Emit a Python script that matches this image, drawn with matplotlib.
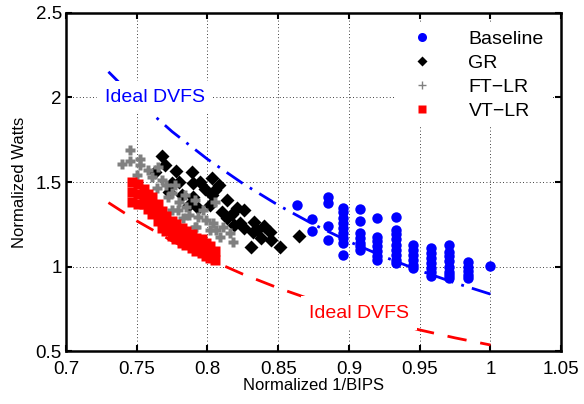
import numpy as np
import matplotlib.pyplot as plt
from matplotlib.lines import Line2D

plt.rcParams['font.family'] = ['Liberation Sans', 'DejaVu Sans']

# Baseline (blue circles), grouped by column
base_cols = {
    0.863: [1.364],
    0.874: [1.281, 1.21],
    0.885: [1.411, 1.376, 1.24, 1.157],
    0.896: [1.346, 1.32, 1.29, 1.26, 1.23, 1.20, 1.17, 1.139, 1.068],
    0.908: [1.34, 1.27, 1.20, 1.17, 1.14, 1.12, 1.10],
    0.920: [1.287, 1.175, 1.15, 1.12, 1.09, 1.06, 1.038],
    0.933: [1.293, 1.216, 1.19, 1.16, 1.13, 1.10, 1.07, 1.04, 1.02],
    0.945: [1.127, 1.10, 1.07, 1.04, 1.01, 0.99],
    0.958: [1.109, 1.08, 1.05, 1.02, 0.99, 0.965, 0.944],
    0.971: [1.127, 1.086, 1.06, 1.03, 1.00, 0.97, 0.95, 0.932],
    0.984: [1.027, 1.00, 0.975, 0.95, 0.932],
    1.000: [1.003],
}

# GR (black diamonds)
gr_x = [0.768, 0.770, 0.763, 0.778, 0.789, 0.780, 0.775, 0.790, 0.773, 0.782,
        0.790, 0.787, 0.793, 0.795, 0.803, 0.803, 0.802, 0.810, 0.821, 0.814,
        0.823, 0.826, 0.833, 0.832, 0.835, 0.844, 0.845, 0.838, 0.831, 0.851,
        0.865, 0.805, 0.814, 0.826, 0.819, 0.798, 0.808, 0.817, 0.840]
gr_y = [1.654, 1.601, 1.559, 1.565, 1.559, 1.500, 1.494, 1.494, 1.441, 1.423,
        1.411, 1.364, 1.346, 1.500, 1.524, 1.423, 1.364, 1.322, 1.346, 1.287,
        1.257, 1.228, 1.263, 1.204, 1.216, 1.204, 1.157, 1.169, 1.115, 1.115,
        1.180, 1.453, 1.393, 1.334, 1.245, 1.460, 1.480, 1.310, 1.240]

# FT-LR (grey pluses)
ft_x = [0.745, 0.7395, 0.745, 0.752, 0.752, 0.750, 0.758, 0.765, 0.761, 0.768,
        0.771, 0.764, 0.772, 0.775, 0.780, 0.779, 0.785, 0.787, 0.793, 0.797,
        0.799, 0.804, 0.806, 0.811, 0.816, 0.818, 0.809, 0.802, 0.792, 0.783,
        0.775, 0.805, 0.791, 0.784, 0.791, 0.777]
ft_y = [1.689, 1.607, 1.624, 1.636, 1.601, 1.541, 1.571, 1.589, 1.530, 1.512,
        1.482, 1.464, 1.411, 1.435, 1.382, 1.335, 1.352, 1.305, 1.293, 1.335,
        1.275, 1.257, 1.216, 1.234, 1.198, 1.145, 1.175, 1.216, 1.234, 1.287,
        1.335, 1.382, 1.234, 1.423, 1.393, 1.482]

# VT-LR (red squares)
vt_x = [0.747, 0.747, 0.747, 0.751, 0.751, 0.751, 0.755, 0.755, 0.755, 0.758, 0.758, 0.758,
        0.761, 0.761, 0.761, 0.765, 0.765, 0.765, 0.768, 0.768, 0.768, 0.771, 0.771, 0.771,
        0.775, 0.775, 0.775, 0.778, 0.778, 0.778, 0.782, 0.782, 0.782, 0.785, 0.785, 0.785,
        0.789, 0.789, 0.789, 0.792, 0.792, 0.792, 0.796, 0.796, 0.796, 0.799, 0.799, 0.799,
        0.802, 0.802, 0.802, 0.805, 0.805]
vt_y = [1.50, 1.44, 1.38, 1.49, 1.43, 1.37, 1.46, 1.42, 1.37, 1.43, 1.39, 1.34,
        1.41, 1.36, 1.31, 1.37, 1.32, 1.27, 1.33, 1.28, 1.23, 1.30, 1.25, 1.21,
        1.27, 1.22, 1.18, 1.25, 1.20, 1.16, 1.23, 1.18, 1.14, 1.21, 1.17, 1.13,
        1.19, 1.15, 1.11, 1.17, 1.13, 1.09, 1.16, 1.12, 1.08, 1.14, 1.10, 1.06,
        1.12, 1.085, 1.05, 1.09, 1.04]

# Ideal DVFS curves
ideal_x = [0.73, 0.75, 0.775, 0.80, 0.825, 0.85, 0.875, 0.90, 0.925, 0.95, 0.975, 1.0]
ideal_blue = [2.152, 1.984, 1.798, 1.635, 1.491, 1.363, 1.249, 1.148, 1.057, 0.976, 0.903, 0.837]
ideal_red = [1.378, 1.270, 1.151, 1.047, 0.955, 0.873, 0.800, 0.735, 0.677, 0.625, 0.578, 0.536]

base_x = [x for x, ys in base_cols.items() for _ in ys]
base_y = [y for ys in base_cols.values() for y in ys]

fig = plt.figure(figsize=(5.84, 4.04), dpi=100)
ax = fig.add_axes([0.113, 0.131, 0.848, 0.837])

ax.plot(base_x, base_y, 'o', color='#0000ff', ms=7.5, mec='none', zorder=3)
ax.plot(gr_x, gr_y, 'D', color='black', ms=7, mec='none', zorder=3)
ax.plot(ft_x, ft_y, 'P', color='#808080', ms=7.5, mec='none', zorder=3)
ax.plot(vt_x, vt_y, 's', color='#ff0000', ms=6.5, mec='none', zorder=3)

ax.plot(ideal_x, ideal_blue, color='#0000ff', lw=2, dashes=(7, 3, 1, 3), zorder=2)
ax.plot(ideal_x, ideal_red, color='#ff0000', lw=2, dashes=(7, 5), zorder=2)

ax.text(0.763, 2.0, 'Ideal DVFS', color='#0000ff', fontsize=14, ha='center', va='center',
        bbox=dict(facecolor='white', edgecolor='none', pad=6), zorder=4)
ax.text(0.907, 0.725, 'Ideal DVFS', color='#ff0000', fontsize=14, ha='center', va='center',
        bbox=dict(facecolor='white', edgecolor='none', pad=6), zorder=4)

ax.set_xlim(0.7, 1.05)
ax.set_ylim(0.5, 2.5)
ax.set_xticks([0.7, 0.75, 0.8, 0.85, 0.9, 0.95, 1.0, 1.05])
ax.set_xticklabels(['0.7', '0.75', '0.8', '0.85', '0.9', '0.95', '1', '1.05'])
ax.set_yticks([0.5, 1, 1.5, 2, 2.5])
ax.set_yticklabels(['0.5', '1', '1.5', '2', '2.5'])
ax.tick_params(direction='in', top=True, right=True, labelsize=13.5, length=4, width=1.5)
ax.tick_params(axis='x', pad=7)
ax.tick_params(axis='y', pad=3)
ax.grid(True, color='black', linestyle=(0, (1, 3)), linewidth=0.6)
for s in ax.spines.values():
    s.set_linewidth(1.8)

ax.set_xlabel('Normalized 1/BIPS', fontsize=12, labelpad=0)
ax.set_ylabel('Normalized Watts', fontsize=12, labelpad=6)

handles = [
    Line2D([], [], ls='none', marker='o', color='#0000ff', ms=6.5, mec='none'),
    Line2D([], [], ls='none', marker='D', color='black', ms=5, mec='none'),
    Line2D([], [], ls='none', marker='+', color='#808080', ms=6, mew=1),
    Line2D([], [], ls='none', marker='s', color='#ff0000', ms=6, mec='none'),
]
ax.legend(handles, ['Baseline', 'GR', 'FT\u2212LR', 'VT\u2212LR'], loc='upper right',
          frameon=True, facecolor='white', edgecolor='none', framealpha=1,
          fontsize=14, handletextpad=1.4, labelspacing=0.32, borderaxespad=0.5)

fig.savefig('out.png', dpi=100)
